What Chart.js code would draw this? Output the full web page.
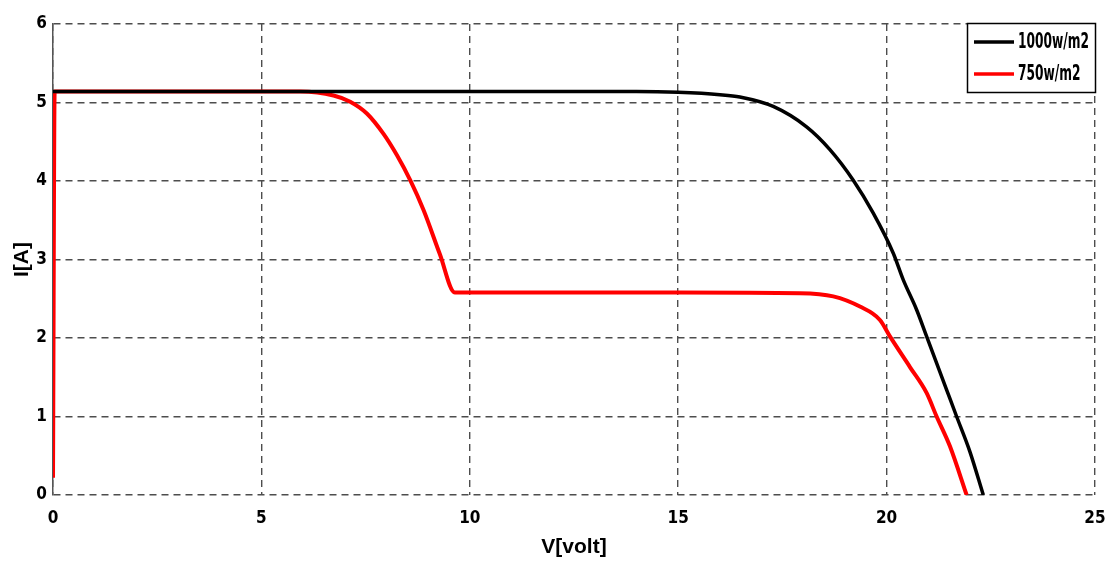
<!DOCTYPE html>
<html>
<head>
<meta charset="utf-8">
<script src="https://cdn.jsdelivr.net/npm/chart.js@4.4.1/dist/chart.umd.min.js"></script>
<style>
  html, body { margin: 0; padding: 0; background: #fff; }
  #wrap { width: 1109px; height: 562px; position: relative; }
</style>
</head>
<body>
<div id="wrap"><canvas id="chart"></canvas></div>
<script>
// I-V curves
const seriesLabels = ['1000w/m2', '750w/m2'];
const xTicks = [0, 5, 10, 15, 20, 25];
const yTicks = [0, 1, 2, 3, 4, 5, 6];

const voltage1000 = [0, 5, 10, 14, 15, 16, 16.48, 17.28, 18.08, 18.64, 19.2, 19.68, 20.16, 20.4, 20.72, 20.96, 21.44, 21.68, 22.0, 22.32];
const current1000 = [5.14, 5.14, 5.14, 5.14, 5.13, 5.10, 5.07, 4.95, 4.69, 4.40, 4.01, 3.59, 3.08, 2.74, 2.36, 2.02, 1.34, 1.00, 0.55, 0.0];

const voltage750 = [0, 0.04, 5, 5.93, 6.73, 7.13, 7.53, 7.93, 8.25, 8.57, 8.89, 9.28, 9.64, 12, 15, 17.92, 18.72, 19.36, 19.84, 20.08, 20.56, 20.96, 21.2, 21.52, 21.92];
const current750 = [0.22, 5.14, 5.14, 5.14, 5.09, 5.01, 4.86, 4.60, 4.33, 4.01, 3.63, 3.07, 2.58, 2.58, 2.58, 2.57, 2.53, 2.40, 2.23, 2.02, 1.63, 1.30, 1.00, 0.62, 0.0];

const toPoints = (xs, ys) => xs.map((x, i) => ({ x: x, y: ys[i] }));

const tickFont = { family: "'DejaVu Sans Condensed', 'Liberation Sans Narrow', 'DejaVu Sans'", size: 17, weight: 'bold' };
const titleFont = { family: "'Liberation Sans', Arial", size: 21, weight: 'bold' };
const gridDash = [7, 5];

// legend box drawn inside the plot, top right
const legendBox = {
    id: 'legendBox',
    afterDraw(chart) {
        const ctx = chart.ctx;
        const area = chart.chartArea;
        const w = 129, h = 70;
        const x = area.right - w + 1, y = area.top - 1;
        ctx.save();
        ctx.fillStyle = '#fff';
        ctx.fillRect(x, y, w, h);
        ctx.strokeStyle = '#000';
        ctx.lineWidth = 1.5;
        ctx.strokeRect(x + 0.5, y + 0.5, w - 1, h - 1);
        ctx.textBaseline = 'middle';
        chart.data.datasets.forEach((ds, i) => {
            const ly = y + 19 + i * 32;
            ctx.strokeStyle = ds.borderColor;
            ctx.lineWidth = 3.5;
            ctx.beginPath();
            ctx.moveTo(x + 7, ly);
            ctx.lineTo(x + 47, ly);
            ctx.stroke();
            // narrow text, like the original's condensed font
            ctx.save();
            ctx.translate(x + 51, ly + 1);
            ctx.scale(0.8, 1.2);
            ctx.font = `bold 17px ${tickFont.family}`;
            ctx.fillStyle = '#000';
            ctx.fillText(ds.label, 0, 0);
            ctx.restore();
        });
        ctx.restore();
    }
};

new Chart(document.getElementById('chart'), {
    type: 'line',
    data: {
        datasets: [{
            label: seriesLabels[0],
            data: toPoints(voltage1000, current1000),
            borderColor: '#000000',
            borderWidth: 3.5,
            pointRadius: 0,
            cubicInterpolationMode: 'monotone',
            fill: false
        }, {
            label: seriesLabels[1],
            data: toPoints(voltage750, current750),
            borderColor: '#ff0000',
            borderWidth: 4,
            pointRadius: 0,
            cubicInterpolationMode: 'monotone',
            fill: false
        }]
    },
    options: {
        responsive: true,
        maintainAspectRatio: false,
        animation: false,
        layout: { padding: { top: 24, right: 14, left: 0, bottom: 0 } },
        plugins: {
            legend: { display: false },
            tooltip: { enabled: false }
        },
        scales: {
            x: {
                type: 'linear',
                min: 0,
                max: 25,
                afterBuildTicks: (s) => { s.ticks = xTicks.map(v => ({ value: v })); },
                afterFit: (s) => { s.height = 67; s.paddingLeft = 0; s.paddingRight = 0; },
                grid: { color: '#4d4d4d', lineWidth: 1.4, drawTicks: false },
                border: { display: false, dash: gridDash },
                ticks: { color: '#000', font: tickFont, padding: 13, maxRotation: 0 },
                title: { display: true, text: 'V[volt]', color: '#000', font: titleFont, padding: { top: 0, bottom: 2 } }
            },
            y: {
                type: 'linear',
                min: 0,
                max: 6,
                afterBuildTicks: (s) => { s.ticks = yTicks.map(v => ({ value: v })); },
                afterFit: (s) => { s.width = 53; s.paddingTop = 0; s.paddingBottom = 0; },
                grid: { color: '#4d4d4d', lineWidth: 1.4, drawTicks: false },
                border: { display: true, color: '#555', width: 1.5, dash: gridDash },
                ticks: { color: '#000', font: tickFont, padding: 6 },
                title: { display: true, text: 'I[A]', color: '#000', font: titleFont, padding: { top: 10, bottom: 0 } }
            }
        }
    },
    plugins: [legendBox]
});
</script>
</body>
</html>
